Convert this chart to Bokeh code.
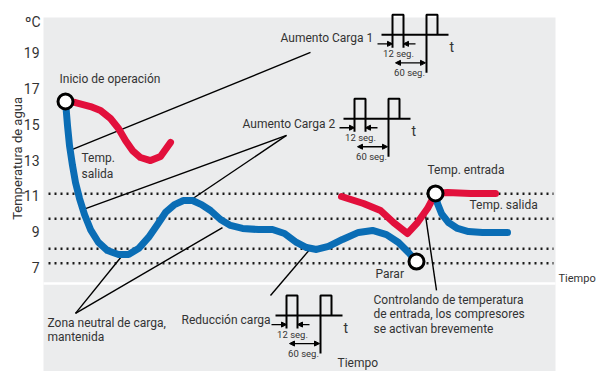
from bokeh.plotting import figure
from bokeh.models import Range1d, Arrow, NormalHead
from bokeh.core.properties import value
from bokeh.embed import file_html
from bokeh.resources import INLINE
import math

FONT = "Roboto"
TXT = "#333333"
BLUE = "#0a6db5"
RED = "#e2103c"
BG = "#ebeced"

# ---- data (time in arbitrary units across the panel, temperature in degC) ----
yticks = [7, 9, 11, 13, 15, 17, 19]
neutral_levels = [11.12, 9.73, 8.06, 7.26]

blue1_t = [65, 67, 69, 72, 75, 79, 84, 90, 98, 107, 118, 128, 138, 148, 157, 165, 174, 183, 192,
           201, 210, 220, 230, 242, 258, 272, 284, 296, 306, 316, 328, 342, 358, 372, 386, 398, 408, 416]
blue1_v = [16.26, 14.92, 13.81, 12.70, 11.75, 10.86, 9.97, 9.13, 8.41, 7.96, 7.74, 7.74, 8.07, 8.69,
           9.41, 10.08, 10.52, 10.75, 10.75, 10.52, 10.19, 9.69, 9.36, 9.19, 9.13, 9.13, 8.91, 8.41,
           8.13, 8.02, 8.19, 8.58, 8.97, 9.08, 8.85, 8.41, 7.85, 7.35]

blue2_t = [435, 437, 441, 448, 457, 468, 482, 496, 507]
blue2_v = [11.14, 10.58, 10.02, 9.52, 9.19, 9.02, 8.97, 8.97, 8.97]

red1_t = [65, 75, 90, 100, 110, 118, 125, 132, 140, 150, 160, 170]
red1_v = [16.26, 16.20, 15.98, 15.76, 15.31, 14.76, 14.09, 13.53, 13.14, 12.97, 13.20, 13.98]

red2_t = [341, 363, 380, 393, 407, 417, 427, 435, 447, 470, 495]
red2_v = [10.97, 10.58, 10.19, 9.52, 8.91, 9.52, 10.30, 11.14, 11.19, 11.14, 11.14]

events_t = [65, 435, 416]
events_v = [16.26, 11.14, 7.35]

# leader lines (label anchor -> curve)
lead_x0 = [310, 286, 286, 75, 75, 270, 424]
lead_y0 = [18.99, 14.37, 14.37, 4.46, 4.46, 5.46, 10.30]
lead_x1 = [72, 83, 188, 121, 222, 310, 436]
lead_y1 = [13.59, 10.25, 10.69, 7.63, 9.24, 8.07, 5.74]

labels_text = ["Inicio de operación", "Aumento Carga 1", "Temp.", "salida", "Aumento Carga 2",
               "Temp. entrada", "Temp. salida", "Parar", "Zona neutral de carga,", "mantenida",
               "Reducción carga", "Controlando de temperatura", "de entrada, los compresores",
               "se activan brevemente"]
labels_t = [59, 280, 81, 81, 242, 427, 469, 375, 47, 47, 181, 373, 373, 373]
labels_v = [17.54, 19.82, 13.09, 12.25, 14.98, 12.42, 10.47, 6.63, 3.95, 3.12, 4.07, 5.18, 4.40, 3.62]

# pulse diagrams: baseline anchor
pulse_t = [381, 343, 275]
pulse_v = [19.97, 15.30, 4.34]

PX = 17.96  # px per degC

p = figure(width=597, height=371, output_backend="svg", toolbar_location=None,
           x_range=Range1d(0, 597), y_range=Range1d(1.226, 21.883),
           x_axis_location=None, y_axis_location=None,
           min_border_left=0, min_border_right=0, min_border_top=0, min_border_bottom=0)
p.background_fill_color = "white"
p.border_fill_color = "white"
p.outline_line_color = None
p.grid.visible = False

# chart panel
p.quad(left=[43], right=[555], bottom=[1.0], top=[20.94], fill_color=BG, line_color=None)

# y tick labels and axis texts
p.text(x=[39] * len(yticks), y=yticks, text=[str(t) for t in yticks], text_font=value(FONT),
       text_font_size="14px", text_align="right", text_baseline="middle", text_color=TXT)
p.text(x=[40], y=[20.66], text=["ºC"], text_font=value(FONT), text_font_size="14px",
       text_align="right", text_baseline="middle", text_color=TXT)
p.text(x=[17], y=[13.09], text=["Temperatura de agua"], angle=math.pi / 2, text_font=value(FONT),
       text_font_size="13px", text_align="center", text_baseline="middle", text_color=TXT)

# separator
p.segment(x0=[43], y0=[6.13], x1=[555], y1=[6.13], line_color="white", line_width=2.5)

# neutral-zone dotted lines
p.segment(x0=[48] * 4, y0=neutral_levels, x1=[553] * 4, y1=neutral_levels,
          line_color="#1a1a1a", line_width=2.5, line_dash="2 4")

# leader lines
p.segment(x0=lead_x0, y0=lead_y0, x1=lead_x1, y1=lead_y1, line_color="black", line_width=1.4)

# curves
for t, v, c in [(red1_t, red1_v, RED), (red2_t, red2_v, RED), (blue1_t, blue1_v, BLUE), (blue2_t, blue2_v, BLUE)]:
    p.line(t, v, line_color=c, line_width=7, line_cap="round", line_join="round")

p.scatter(events_t, events_v, size=15, fill_color="white", line_color="black", line_width=3)

p.text(x=labels_t, y=labels_v, text=labels_text, text_font=value(FONT), text_font_size="12px",
       text_baseline="middle", text_align="left", text_color=TXT)

# pulse diagrams
for x0, v0 in zip(pulse_t, pulse_v):
    def Y(dy):
        return v0 - dy / PX
    xs = [[x0, x0 + 67],
          [x0 + 11, x0 + 11, x0 + 22, x0 + 22],
          [x0 + 45, x0 + 45, x0 + 56, x0 + 56]]
    ys = [[Y(0), Y(0)],
          [Y(13), Y(-20), Y(-20), Y(13)],
          [Y(38), Y(-20), Y(-20), Y(0)]]
    p.multi_line(xs, ys, line_color="black", line_width=2)
    head = dict(size=5, fill_color="black", line_color="black")
    p.add_layout(Arrow(end=NormalHead(**head), x_start=x0 - 4, y_start=Y(9), x_end=x0 + 11, y_end=Y(9),
                       line_width=1.3))
    p.add_layout(Arrow(end=NormalHead(**head), x_start=x0 + 34, y_start=Y(9), x_end=x0 + 22, y_end=Y(9),
                       line_width=1.3))
    p.add_layout(Arrow(start=NormalHead(**head), end=NormalHead(**head), x_start=x0 + 14, y_start=Y(28),
                       x_end=x0 + 44, y_end=Y(28), line_width=1.3))
    p.text(x=[x0 + 17, x0 + 28], y=[Y(19), Y(38)], text=["12 seg.", "60 seg."], text_font=value(FONT),
           text_font_size="9.5px", text_align="center", text_baseline="middle", text_color=TXT)
    p.text(x=[x0 + 68], y=[Y(12)], text=["t"], text_font=value(FONT), text_font_size="14px",
           text_align="left", text_baseline="middle", text_color=TXT)

# time labels
p.text(x=[558], y=[6.40], text=["Tiempo"], text_font=value(FONT), text_font_size="11px",
       text_align="left", text_baseline="middle", text_color=TXT)
p.text(x=[337], y=[1.70], text=["Tiempo"], text_font=value(FONT), text_font_size="12px",
       text_align="left", text_baseline="middle", text_color=TXT)

open("out.html", "w").write(file_html(p, INLINE))
